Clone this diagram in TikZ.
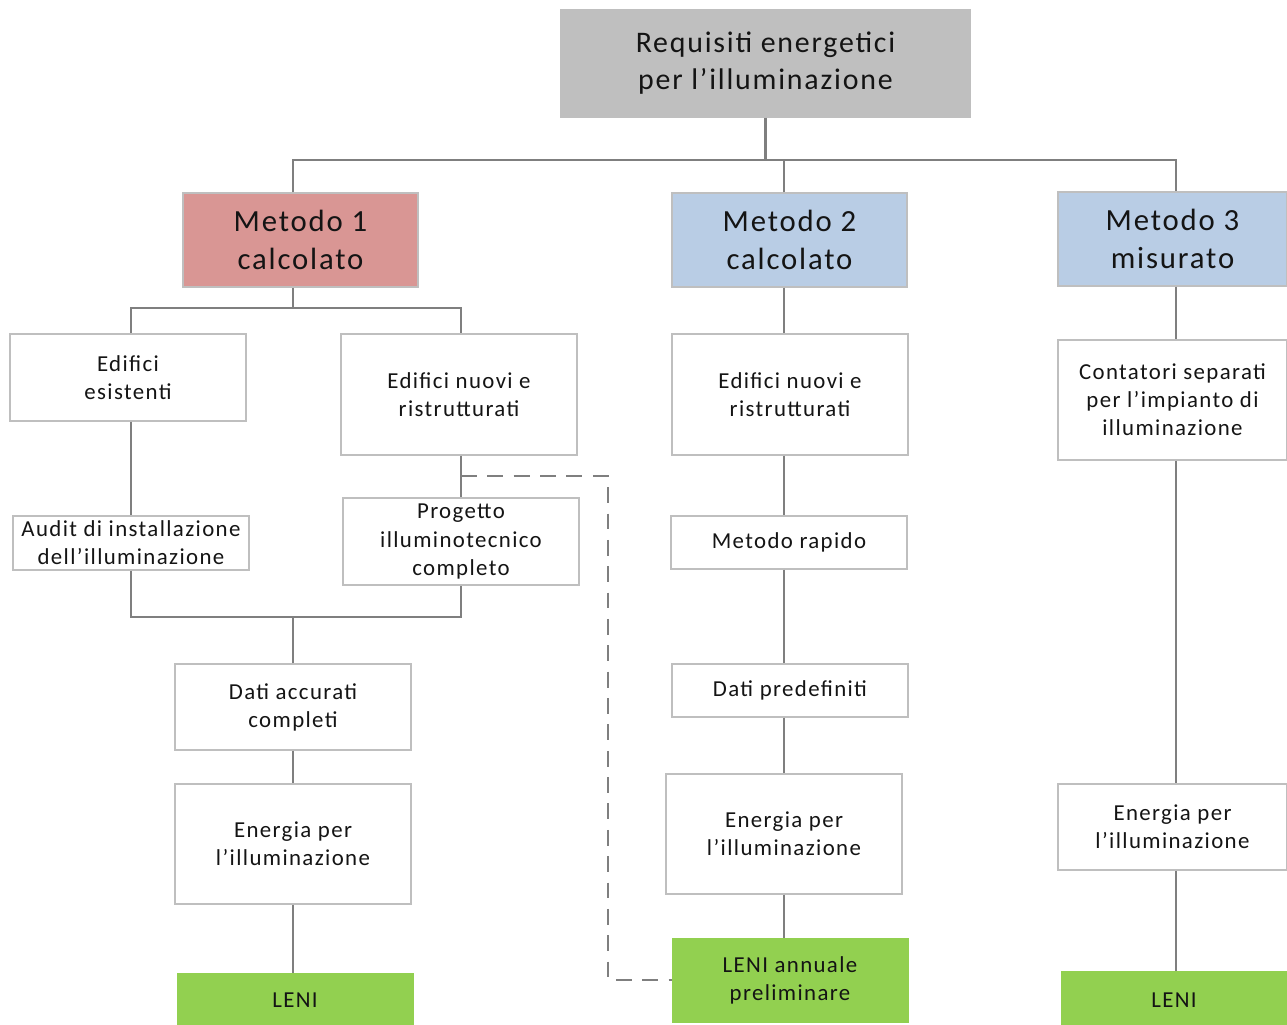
\documentclass[tikz,border=0pt]{standalone}
\usepackage{fontspec}
\setmainfont{Carlito}[LetterSpace=6]
\usepackage{tikz}
\usetikzlibrary{calc}
\definecolor{boxline}{HTML}{BFBFBF}
\definecolor{linkgray}{HTML}{7F7F7F}
\definecolor{topgray}{HTML}{BFBFBF}
\definecolor{redfill}{HTML}{D99694}
\definecolor{bluefill}{HTML}{B9CDE5}
\definecolor{lenigreen}{HTML}{92D050}
\definecolor{txt}{HTML}{141414}
\begin{document}
\begin{tikzpicture}[x=0.2mm, y=-0.2mm,
    every node/.style={text=txt, align=center, inner sep=1pt},
    smallbox/.style={draw=boxline, line width=0.7pt, fill=white, minimum width=47.2mm,
      font=\fontsize{13}{16}\selectfont},
    methodbox/.style={draw=boxline, line width=0.7pt, minimum height=18.8mm,
      font=\fontsize{17.5}{21.5}\selectfont},
    lenibox/.style={draw=lenigreen, fill=lenigreen, minimum width=47.2mm,
      font=\fontsize{13}{16}\selectfont},
    conn/.style={draw=linkgray, line width=1.4pt},
    dashconn/.style={draw=linkgray, line width=1.2pt, dash pattern=on 9pt off 6pt}]
    \useasboundingbox (0,0) rectangle (1287,1024);
    % top level
    \node[methodbox, fill=topgray, minimum width=81.8mm, minimum height=21.4mm,
      font=\fontsize{17}{21}\selectfont] (top) at (765.5,63.5)
      {Requisiti energetici\\per l’illuminazione};
    \node[methodbox, fill=redfill, minimum width=47mm] (met1) at (300.5,240) {Metodo 1\\calcolato};
    \node[methodbox, fill=bluefill, minimum width=47mm] (met2) at (789.5,240) {Metodo 2\\calcolato};
    \node[methodbox, fill=bluefill, minimum width=45.8mm] (met3) at (1172.5,239) {Metodo 3\\misurato};
    % Metodo 1
    \node[smallbox, minimum height=17.4mm] (esist) at (128,377.5) {Edifici\\esistenti};
    \node[smallbox, minimum height=24.2mm] (nuovi1) at (459,394.5) {Edifici nuovi e\\ristrutturati};
    \node[smallbox, minimum height=10.8mm] (audit) at (131,543) {Audit di installazione\\dell’illuminazione};
    \node[smallbox, minimum height=17.4mm] (prog) at (461,541.5) {Progetto\\illuminotecnico\\completo};
    \node[smallbox, minimum height=17.2mm] (accur) at (293,707) {Dati accurati\\completi};
    \node[smallbox, minimum height=24mm] (energ1) at (293,844) {Energia per\\l’illuminazione};
    \node[lenibox, minimum height=10.8mm] (leni1) at (295,1000) {LENI};
    % Metodo 2
    \node[smallbox, minimum height=24.2mm] (nuovi2) at (790,394.5) {Edifici nuovi e\\ristrutturati};
    \node[smallbox, minimum height=10.6mm] (rapido) at (789,542.5) {Metodo rapido};
    \node[smallbox, minimum height=10.6mm] (predef) at (790,690.5) {Dati predefiniti};
    \node[smallbox, minimum height=24mm] (energ2) at (784,834) {Energia per\\l’illuminazione};
    \node[lenibox, minimum height=16.8mm] (leni2) at (790,980) {LENI annuale\\preliminare};
    % Metodo 3
    \node[smallbox, minimum width=45.8mm, minimum height=24mm] (conta) at (1172.5,400)
      {Contatori separati\\per l’impianto di\\illuminazione};
    \node[smallbox, minimum width=45.8mm, minimum height=17.2mm] (energ3) at (1172.5,827)
      {Energia per\\l’illuminazione};
    \node[lenibox, minimum width=45.2mm, minimum height=11.6mm] (leni3) at (1174,1000) {LENI};
    % connectors
    \coordinate (colA) at (131,0);
    \coordinate (colB) at (461,0);
    \coordinate (col1) at (293,0);
    \coordinate (col2) at (784,0);
    \coordinate (col3) at (1176,0);
    \coordinate (bus0) at (766,160);
    \coordinate (bus1) at (293,308);
    \coordinate (bus2) at (293,617);
    \coordinate (dashstart) at (461,476);
    \coordinate (dashcorner) at (608,476);
    \draw[conn] (top.south) -- (top.south |- bus0);
    \draw[conn] (met1.north -| col1) -- (bus0 -| col1) -- (bus0 -| col3) -- (met3.north -| col3);
    \draw[conn] (met2.north -| col2) -- (bus0 -| col2);
    \draw[conn] (met1.south -| col1) -- (bus1);
    \draw[conn] (esist.north -| colA) -- (bus1 -| colA) -- (bus1 -| colB) -- (nuovi1.north -| colB);
    \draw[conn] (esist.south -| colA) -- (audit.north -| colA);
    \draw[conn] (nuovi1.south -| colB) -- (prog.north -| colB);
    \draw[conn] (audit.south -| colA) -- (bus2 -| colA) -- (bus2 -| colB) -- (prog.south -| colB);
    \draw[conn] (accur.north) -- (bus2);
    \draw[conn] (accur) -- (energ1);
    \draw[conn] (energ1) -- (leni1.north -| col1);
    \draw[dashconn] (dashstart) -- (dashcorner) |- (leni2.west);
    \draw[conn] (met2.south -| col2) -- (nuovi2.north -| col2);
    \draw[conn] (nuovi2.south -| col2) -- (rapido.north -| col2);
    \draw[conn] (rapido.south -| col2) -- (predef.north -| col2);
    \draw[conn] (predef.south -| col2) -- (energ2.north -| col2);
    \draw[conn] (energ2.south -| col2) -- (leni2.north -| col2);
    \draw[conn] (met3.south -| col3) -- (conta.north -| col3);
    \draw[conn] (conta.south -| col3) -- (energ3.north -| col3);
    \draw[conn] (energ3.south -| col3) -- (leni3.north -| col3);
\end{tikzpicture}
\end{document}
